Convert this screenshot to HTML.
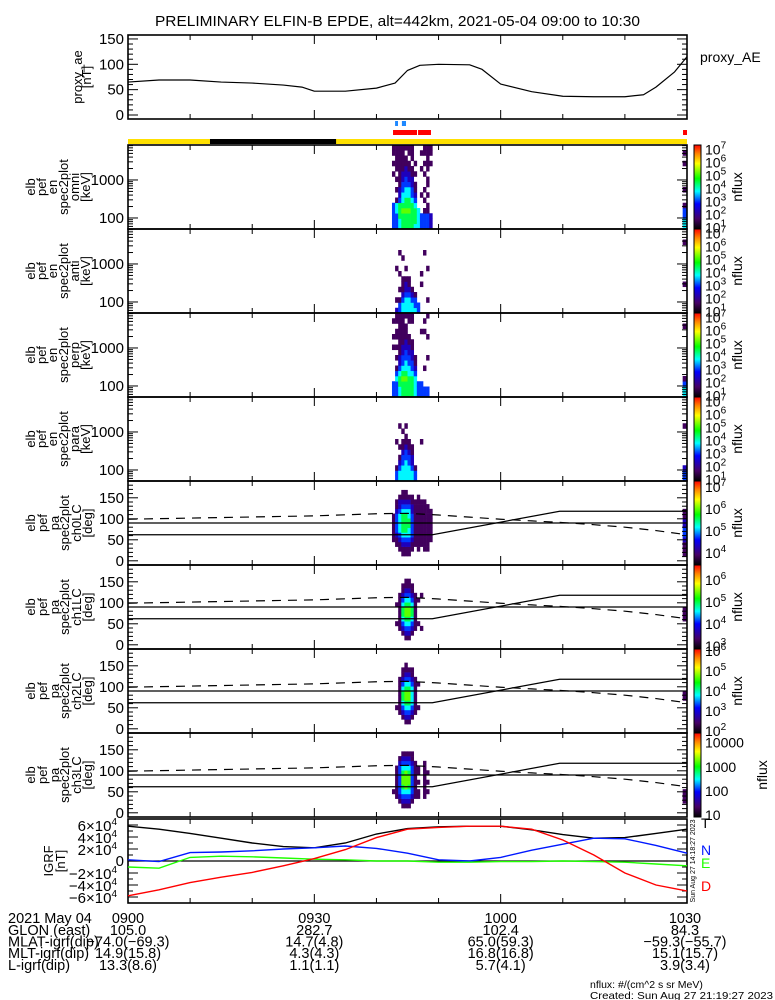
<!DOCTYPE html>
<html><head><meta charset="utf-8"><style>
html,body{margin:0;padding:0;background:#fff}
svg{display:block;font-family:"Liberation Sans",sans-serif}
</style></head><body>
<svg id="c" width="775" height="1000" viewBox="0 0 775 1000" xmlns="http://www.w3.org/2000/svg"></svg>
<script>
// ---------- DATA ----------
const sampleTimes=[0,5,10,15,20,25,30,35,40,45,50,55,60,65,70,75,80,85,90];
const aeTimes=[0,5,10,15,20,25,28,30,35,40,43,45,47,50,55,57,60,65,70,75,80,83,85,88,90];
const aeVals=[65,69,69,65,63,59,55,47,47,53,63,88,98,100,99,90,61,46,37,36,36,40,55,85,115];
const igrfT=[5.8,5.3,4.6,3.8,3.0,2.4,2.2,3.0,4.5,5.4,5.7,5.8,5.8,5.2,4.4,3.8,3.9,4.6,5.3];
const igrfN=[0.2,-0.1,1.4,1.5,1.7,2.0,2.2,2.5,2.1,1.3,0.2,0.0,0.6,1.8,2.8,3.8,3.7,2.6,1.3];
const igrfE=[-1.0,-1.2,0.6,0.8,0.7,0.5,0.3,0.2,0.0,0.0,-0.2,-0.2,-0.1,-0.1,0.0,-0.1,-0.2,-0.5,-0.8];
const igrfD=[-5.8,-4.8,-3.6,-2.7,-1.9,-0.8,0.4,1.9,3.9,5.3,5.6,5.8,5.8,5.3,3.5,1.0,-2.0,-4.0,-5.0];
const lcTimes=[0,49,69.5,90];
const lcValues=[62,62,118,118];
const alcTimes=[0,15,30,40,45,50,55,60,65,70,75,80,85,90];
const alcValues=[99,103,107,112,113,109,104,99,95,91,86,80,72,62];
const colTimes=[42.5,43,43.5,44,44.5,45,45.5,46,46.5,47,47.5,48,48.5];
const edgeTime=89.3;
const specOmni=["3333300000101011","3334410101011111","4455532211111111","5556544332211111","5556554433221101","5556554432211011","5555543322110111","4555432110101000","4444000000000000","3330001000010010","3331010100101011","3331101011011111","2220000000001011"];
const specOmniEdge="4433100100001010";
const specAnti=["0000000000000000","2010000010000000","3310100100010000","4432111000100000","4443221010000000","4443211000000000","4432100000000000","4331000000000000","3300000000000000","0000010100000000","0000000000010000","0010000010000000","0000000000000000"];
const specAntiEdge="0000010000000100";
const specPerp=["3330000001010010","3334310101011011","4455432211111111","5556543322111111","5556544332211101","5555443322110011","5555433221100011","4444321100000000","3330000000000000","3330000000001000","3300010000001010","3300000100010001","0000000000000000"];
const specPerpEdge="4431000000000100";
const specPara=["0000000000000000","3310000100000000","4432101000100000","4443321101000000","4444332110100000","4443321100000000","4432211000000000","3310000000000000","0000000000000000","0000000100000000","0000000000000000","0000000000000000","0000000000000000"];
const specParaEdge="3320000000100000";
const pa0=["0000111111000000","0001123333211000","0011234444322100","0112345555432110","0112345555432110","0112344554432100","0011233333221100","0001111111111000","0011111111111100","0001111111111000","0011111111111000","0011111111110000","0000111111100000"];
const pa0Edge="0111233221100000";
const pa1=["0000000000000000","0000100010000000","0001111111100000","0012345543211000","0123456654321100","0123456654321100","0012345543211000","0001111111100000","0000100001000000","0001000000100000","0000000000000000","0000000000000000","0000000000000000"];
const pa1Edge="0000011100000000";
const pa2=["0000000000000000","0000100000000000","0001111111100000","0012345543211000","0123456654321100","0123456654321000","0012344443211000","0001111111100000","0000100001000000","0000000000000000","0000000000000000","0000000000000000","0000000000000000"];
const pa2Edge="0000001100000000";
const pa3=["0000100000000000","0001111111000000","0012333333210000","0123456654321000","0123466664321000","0123456654321000","0012333333211000","0001111111100000","0001101011000000","0000000000000000","0001111111100000","0000101010000000","0000000000000000"];
const pa3Edge="0011100000000000";
const specCbExp=[7,6,5,4,3,2,1];
const paCbExp=[[7,6,5,4],[6,5,4,3],[6,5,4,3,2],[4,3,2,1]];
const redBars=[[42.67,46.53],[46.7,48.78],[89.36,90]];
const blueBars=[[43.0,43.47],[44.1,44.76]];
const blackBar=[13.2,33.5];
const footerCols=[["0900","105.0","-74.0(-69.3)","14.9(15.8)","13.3(8.6)"],["0930","282.7","14.7(4.8)","4.3(4.3)","1.1(1.1)"],["1000","102.4","65.0(59.3)","16.8(16.8)","5.7(4.1)"],["1030","84.3","-59.3(-55.7)","15.1(15.7)","3.9(3.4)"]];
const footerTimes=[0,30,60,90];

// ---------- LAYOUT ----------
const NS="http://www.w3.org/2000/svg";
const svg=document.getElementById('c');
const X0=128,X1=687;
const tx=t=>X0+t/90*(X1-X0);
function el(tag,attrs,parent){const e=document.createElementNS(NS,tag);for(const k in attrs)e.setAttribute(k,attrs[k]);(parent||svg).appendChild(e);return e;}
function txt(s,x,y,size,attrs,parent){const e=el('text',Object.assign({x:x,y:y,'font-size':size,fill:'#000'},attrs||{}),parent);e.textContent=s;return e;}
const stops=[[0,0,0,0],[0.12,70,0,100],[0.3,0,0,255],[0.45,0,255,255],[0.6,0,255,0],[0.78,255,255,0],[0.9,255,128,0],[1,255,0,0]];
function cmap(f){f=Math.max(0,Math.min(1,f));for(let i=1;i<stops.length;i++){if(f<=stops[i][0]){const a=stops[i-1],b=stops[i],u=(f-a[0])/(b[0]-a[0]);return 'rgb('+[1,2,3].map(j=>Math.round(a[j]+u*(b[j]-a[j]))).join(',')+')';}}return 'rgb(255,0,0)';}
const defs=el('defs',{});
const grad=el('linearGradient',{id:'cbg',x1:0,y1:1,x2:0,y2:0},defs);
stops.forEach(s=>{el('stop',{offset:s[0],'stop-color':'rgb('+s[1]+','+s[2]+','+s[3]+')'},grad);});

// Title
const title=txt('PRELIMINARY ELFIN-B EPDE, alt=442km, 2021-05-04 09:00 to 10:30',155,26,15,{textLength:485,lengthAdjust:'spacingAndGlyphs'});



function timeTicks(top,bot,g){
  for(let t=10;t<90;t+=10){const L=(t%30===0)?9:5;const x=tx(t);
    const a=el('line',{x1:x,y1:bot,x2:x,y2:bot-L,stroke:'#000','stroke-width':1},g);
    
    
    const b=el('line',{x1:x,y1:top,x2:x,y2:top+L,stroke:'#000','stroke-width':1},g);
    
    }
}
function frame(top,bot,g){
  const r=el('rect',{x:X0,y:top,width:X1-X0,height:bot-top,fill:'none',stroke:'#000','stroke-width':1.6},g);
  
  
  timeTicks(top,bot,g);
}
function yTick(y,L,g){
  const a=el('line',{x1:X0,y1:y,x2:X0+L,y2:y,stroke:'#000','stroke-width':1},g);
  
  
  const b=el('line',{x1:X1,y1:y,x2:X1-L,y2:y,stroke:'#000','stroke-width':1},g);
  
  
}
function yLabel(s,y,g){const t=txt(s,124,y+5,15,{'text-anchor':'end'},g);
  
  }
function sideLabel(lines,xs,cy,g){lines.forEach((s,i)=>{const t=txt(s,0,0,13,{'text-anchor':'middle',transform:'translate('+xs[i]+','+cy+') rotate(-90)'},g);
  
  });}

// ---------- proxy_AE panel ----------
const gAE=el('g',{});


const aeY=v=>115-v*0.507;
frame(35,119,gAE);
for(let v=0;v<=150;v+=10)yTick(aeY(v),v%50===0?10:5,gAE);
[0,50,100,150].forEach(v=>yLabel(String(v),aeY(v),gAE));
const aeLine=el('polyline',{points:aeTimes.map((t,i)=>tx(t)+','+aeY(aeVals[i])).join(' '),fill:'none',stroke:'#000','stroke-width':1.2,'stroke-linejoin':'round'},gAE);


sideLabel(['proxy_ae','[nT]'],[82,91],77,gAE);
const aeLeg=txt('proxy_AE',700,62,14,{},gAE);



// ---------- status bars ----------
const gBar=el('g',{});


blueBars.forEach(b=>{const r=el('rect',{x:tx(b[0]),y:121,width:tx(b[1])-tx(b[0]),height:5,fill:'#1e88ff'},gBar);
  
  });
redBars.forEach(b=>{const r=el('rect',{x:tx(b[0]),y:130,width:tx(b[1])-tx(b[0]),height:5,fill:'#ff0000'},gBar);
  
  });
const yb=el('rect',{x:X0,y:139,width:X1-X0,height:5,fill:'#ffe000'},gBar);


const bb=el('rect',{x:tx(blackBar[0]),y:139,width:tx(blackBar[1])-tx(blackBar[0]),height:5,fill:'#000'},gBar);



// ---------- heatmaps ----------
function heat(cols,edge,top,nb,yOf,g){
  const w=tx(colTimes[1])-tx(colTimes[0]);
  const all=cols.map((c,i)=>[colTimes[i],c]).concat([[edgeTime,edge]]);
  all.forEach(([t,c])=>{const ww=(t===edgeTime)?(X1-tx(t)):w;
    for(let k=0;k<nb;k++){const d=+c[k];if(!d)continue;const y0=yOf(k+1),y1=yOf(k);
      const r=el('rect',{x:tx(t),y:y0,width:ww+0.3,height:y1-y0+0.3,fill:cmap(d/9)},g);
      
      }});
}
function colorbar(top,bot,min,max,exps,plain,g){
  const r=el('rect',{x:694,y:top,width:7,height:bot-top,fill:'url(#cbg)',stroke:'#000','stroke-width':1},g);
  
  
  const cy=v=>bot-(v-min)/(max-min)*(bot-top);
  exps.forEach(e=>{const y=cy(e);let t;
    if(plain){t=txt(String(Math.pow(10,e)),705,y+5,14,{},g);}
    else{t=txt('10',705,y+6,14,{},g);const s=el('tspan',{dy:-6,'font-size':10},t);s.textContent=String(e);}
    
    });
  const n=txt('nflux',0,0,14,{'text-anchor':'middle',transform:'translate('+(plain?767:742)+','+((top+bot)/2)+') rotate(-90)'},g);
  
  
}
const eMin=1.71,eMax=3.92;
const specSets=[[specOmni,specOmniEdge,'omni'],[specAnti,specAntiEdge,'anti'],[specPerp,specPerpEdge,'perp'],[specPara,specParaEdge,'para']];
specSets.forEach((s,i)=>{
  const top=145+i*84,bot=top+84;
  const g=el('g',{});
  
  
  const ey=v=>top+(eMax-v)/(eMax-eMin)*84;
  heat(s[0],s[1],top,16,k=>ey(eMin+k*(eMax-eMin)/16),g);
  frame(top,bot,g);
  for(let d=1;d<=3;d++)for(let m=1;m<=9;m++){const v=Math.log10(m*Math.pow(10,d));if(v<eMin||v>eMax)continue;yTick(ey(v),m===1?10:5,g);}
  yLabel('1000',ey(3),g);yLabel('100',ey(2),g);
  sideLabel(['elb','pef','en','spec2plot',s[2],'[keV]'],[35,46,57,68,79,90],top+42,g);
  colorbar(top,bot,0.8,7.25,specCbExp,false,g);
});
const paSets=[[pa0,pa0Edge,'ch0LC',3.41,7.23],[pa1,pa1Edge,'ch1LC',2.82,6.64],[pa2,pa2Edge,'ch2LC',1.86,6.05],[pa3,pa3Edge,'ch3LC',0.92,4.4]];
paSets.forEach((s,i)=>{
  const top=481+i*84,bot=top+84;
  const g=el('g',{});
  
  
  const py=v=>bot-(v+10)*0.42;
  heat(s[0],s[1],top,16,k=>py(k*180/16),g);
  frame(top,bot,g);
  for(let v=0;v<=180;v+=10)yTick(py(v),v%50===0?10:5,g);
  [0,50,100,150].forEach(v=>yLabel(String(v),py(v),g));
  const h=el('line',{x1:X0,y1:py(90),x2:X1,y2:py(90),stroke:'#000','stroke-width':1.2},g);
  
  
  const lc=el('polyline',{points:lcTimes.map((t,j)=>tx(t)+','+py(lcValues[j])).join(' '),fill:'none',stroke:'#000','stroke-width':1.2},g);
  
  
  const alc=el('polyline',{points:alcTimes.map((t,j)=>tx(t)+','+py(alcValues[j])).join(' '),fill:'none',stroke:'#000','stroke-width':1.2,'stroke-dasharray':'9,7'},g);
  
  
  sideLabel(['elb','pef','pa','spec2plot',s[2],'[deg]'],[35,47,59,69,81,92],top+42,g);
  colorbar(top,bot,s[3],s[4],paCbExp[i],i===3,g);
});

// ---------- IGRF ----------
const gI=el('g',{});


const iTop=819,iBot=903;
const iy=v=>(iTop+iBot)/2-v*6;
frame(iTop,iBot,gI);
for(let v=-7;v<=7;v++)yTick(iy(v),v%2===0?10:5,gI);
[6,4,2,-2,-4,-6].forEach(v=>{const t=txt((v<0?'\u2212':'')+Math.abs(v)+'\u00d710',117,iy(v)+6,15,{'text-anchor':'end'},gI);
  const s=el('tspan',{dy:-6,'font-size':10},t);s.textContent='4';
  
  });
yLabel('0',iy(0),gI);
const z=el('line',{x1:X0,y1:iy(0),x2:X1,y2:iy(0),stroke:'#000','stroke-width':1.2},gI);


[[igrfT,'#000','igrf-t-line'],[igrfN,'#0018ff','igrf-n-line'],[igrfE,'#20ff00','igrf-e-line'],[igrfD,'#ff0000','igrf-d-line']].forEach(s=>{
  const p=el('polyline',{points:sampleTimes.map((t,j)=>tx(t)+','+iy(s[0][j])).join(' '),fill:'none',stroke:s[1],'stroke-width':1.4},gI);
  
  });
sideLabel(['IGRF','[nT]'],[53,65],861,gI);
[['T',828,'#000'],['N',855,'#0018ff'],['E',868,'#20ff00'],['D',891,'#ff0000']].forEach(s=>{const t=txt(s[0],701,s[1],14,{fill:s[2]},gI);
  
  });
const stamp=txt('Sun Aug 27 14:18:27 2023',0,0,7,{'text-anchor':'middle',transform:'translate(695,861) rotate(-90)'},gI);



// ---------- footer ----------
const gF=el('g',{});


const fy=[923,935,946.5,958,970];
['2021 May 04','GLON (east)','MLAT-igrf(dip)','MLT-igrf(dip)','L-igrf(dip)'].forEach((s,i)=>{const t=txt(s,8,fy[i],14.5,{},gF);
  
  });
footerCols.forEach((c,j)=>c.forEach((s,i)=>{const t=txt(s.replace(/-/g,'\u2212'),tx(footerTimes[j])+(j===3?-2:0),fy[i],14.5,{'text-anchor':'middle'},gF);
  
  }));
const n1=txt('nflux: #/(cm^2 s sr MeV)',590,988,10.5,{},gF);


const n2=txt('Created: Sun Aug 27 21:19:27 2023',590,999,10.5,{textLength:183,lengthAdjust:'spacingAndGlyphs'},gF);


</script>
</body></html>
